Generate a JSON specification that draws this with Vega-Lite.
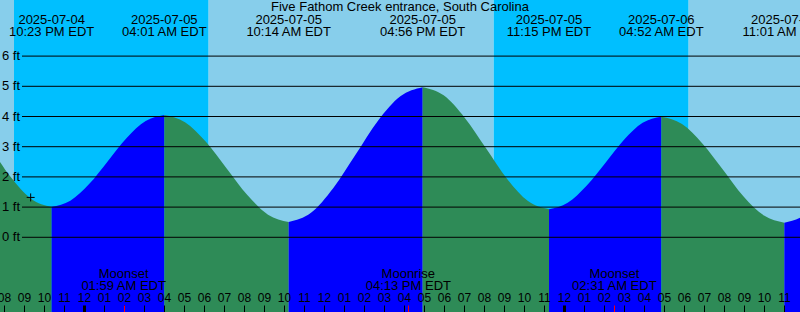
{
  "$schema": "https://vega.github.io/schema/vega-lite/v6.json",
  "width": 800,
  "height": 312,
  "padding": 0,
  "autosize": {"type": "none"},
  "config": {"view": {"stroke": null}, "text": {"font": "Liberation Sans"}},
  "datasets": {
    "sky": [
      {"start": -17.767, "end": -3.5, "kind": "day"},
      {"start": -3.5, "end": 6.233, "kind": "night"},
      {"start": 6.233, "end": 20.483, "kind": "day"},
      {"start": 20.483, "end": 30.233, "kind": "night"},
      {"start": 30.233, "end": 44.5, "kind": "day"}
    ],
    "tide": [
      {"hr": -7.833, "h": 5.00, "seg": "A", "dir": "falling"},
      {"hr": -6.8, "h": 4.73, "seg": "A", "dir": "falling"},
      {"hr": -5.767, "h": 4.00, "seg": "A", "dir": "falling"},
      {"hr": -4.717, "h": 3.01, "seg": "A", "dir": "falling"},
      {"hr": -3.683, "h": 2.01, "seg": "A", "dir": "falling"},
      {"hr": -2.65, "h": 1.28, "seg": "A", "dir": "falling"},
      {"hr": -1.617, "h": 1.01, "seg": "A", "dir": "falling"},
      {"hr": -1.617, "h": 1.01, "seg": "B", "dir": "rising"},
      {"hr": -0.683, "h": 1.21, "seg": "B", "dir": "rising"},
      {"hr": 0.267, "h": 1.77, "seg": "B", "dir": "rising"},
      {"hr": 1.2, "h": 2.53, "seg": "B", "dir": "rising"},
      {"hr": 2.133, "h": 3.29, "seg": "B", "dir": "rising"},
      {"hr": 3.083, "h": 3.85, "seg": "B", "dir": "rising"},
      {"hr": 4.017, "h": 4.05, "seg": "B", "dir": "rising"},
      {"hr": 4.017, "h": 4.05, "seg": "C", "dir": "falling"},
      {"hr": 5.05, "h": 3.81, "seg": "C", "dir": "falling"},
      {"hr": 6.083, "h": 3.17, "seg": "C", "dir": "falling"},
      {"hr": 7.133, "h": 2.28, "seg": "C", "dir": "falling"},
      {"hr": 8.167, "h": 1.40, "seg": "C", "dir": "falling"},
      {"hr": 9.2, "h": 0.75, "seg": "C", "dir": "falling"},
      {"hr": 10.233, "h": 0.51, "seg": "C", "dir": "falling"},
      {"hr": 10.233, "h": 0.51, "seg": "D", "dir": "rising"},
      {"hr": 11.35, "h": 0.81, "seg": "D", "dir": "rising"},
      {"hr": 12.467, "h": 1.63, "seg": "D", "dir": "rising"},
      {"hr": 13.583, "h": 2.74, "seg": "D", "dir": "rising"},
      {"hr": 14.7, "h": 3.86, "seg": "D", "dir": "rising"},
      {"hr": 15.817, "h": 4.67, "seg": "D", "dir": "rising"},
      {"hr": 16.933, "h": 4.97, "seg": "D", "dir": "rising"},
      {"hr": 16.933, "h": 4.97, "seg": "E", "dir": "falling"},
      {"hr": 17.983, "h": 4.70, "seg": "E", "dir": "falling"},
      {"hr": 19.033, "h": 3.96, "seg": "E", "dir": "falling"},
      {"hr": 20.1, "h": 2.95, "seg": "E", "dir": "falling"},
      {"hr": 21.15, "h": 1.94, "seg": "E", "dir": "falling"},
      {"hr": 22.2, "h": 1.20, "seg": "E", "dir": "falling"},
      {"hr": 23.25, "h": 0.93, "seg": "E", "dir": "falling"},
      {"hr": 23.25, "h": 0.93, "seg": "F", "dir": "rising"},
      {"hr": 24.183, "h": 1.14, "seg": "F", "dir": "rising"},
      {"hr": 25.117, "h": 1.70, "seg": "F", "dir": "rising"},
      {"hr": 26.067, "h": 2.46, "seg": "F", "dir": "rising"},
      {"hr": 27.0, "h": 3.23, "seg": "F", "dir": "rising"},
      {"hr": 27.933, "h": 3.79, "seg": "F", "dir": "rising"},
      {"hr": 28.867, "h": 3.99, "seg": "F", "dir": "rising"},
      {"hr": 28.867, "h": 3.99, "seg": "G", "dir": "falling"},
      {"hr": 29.9, "h": 3.75, "seg": "G", "dir": "falling"},
      {"hr": 30.917, "h": 3.11, "seg": "G", "dir": "falling"},
      {"hr": 31.95, "h": 2.24, "seg": "G", "dir": "falling"},
      {"hr": 32.967, "h": 1.36, "seg": "G", "dir": "falling"},
      {"hr": 34.0, "h": 0.72, "seg": "G", "dir": "falling"},
      {"hr": 35.017, "h": 0.48, "seg": "G", "dir": "falling"},
      {"hr": 35.017, "h": 0.48, "seg": "H", "dir": "rising"},
      {"hr": 36.133, "h": 0.78, "seg": "H", "dir": "rising"},
      {"hr": 37.267, "h": 1.61, "seg": "H", "dir": "rising"},
      {"hr": 38.383, "h": 2.74, "seg": "H", "dir": "rising"},
      {"hr": 39.5, "h": 3.87, "seg": "H", "dir": "rising"},
      {"hr": 40.633, "h": 4.70, "seg": "H", "dir": "rising"},
      {"hr": 41.75, "h": 5.00, "seg": "H", "dir": "rising"}
    ],
    "levels": [
      {"ft": 0, "label": "0 ft"},
      {"ft": 1, "label": "1 ft"},
      {"ft": 2, "label": "2 ft"},
      {"ft": 3, "label": "3 ft"},
      {"ft": 4, "label": "4 ft"},
      {"ft": 5, "label": "5 ft"},
      {"ft": 6, "label": "6 ft"}
    ],
    "events": [
      {"hr": -1.617, "date": "2025-07-04", "time": "10:23 PM EDT"},
      {"hr": 4.017, "date": "2025-07-05", "time": "04:01 AM EDT"},
      {"hr": 10.233, "date": "2025-07-05", "time": "10:14 AM EDT"},
      {"hr": 16.933, "date": "2025-07-05", "time": "04:56 PM EDT"},
      {"hr": 23.25, "date": "2025-07-05", "time": "11:15 PM EDT"},
      {"hr": 28.867, "date": "2025-07-06", "time": "04:52 AM EDT"},
      {"hr": 35.017, "date": "2025-07-06", "time": "11:01 AM EDT"}
    ],
    "moon": [
      {"hr": 1.983, "name": "Moonset", "time": "01:59 AM EDT"},
      {"hr": 16.217, "name": "Moonrise", "time": "04:13 PM EDT"},
      {"hr": 26.517, "name": "Moonset", "time": "02:31 AM EDT"}
    ],
    "now": [
      {"hr": -2.667, "h": 1.32}
    ],
    "heading": [
      {"hr": 15.8, "h": 7.493, "text": "Five Fathom Creek entrance, South Carolina"}
    ]
  },
  "layer": [
    {
      "data": {"name": "sky"},
      "mark": {"type": "rect", "clip": true},
      "encoding": {
        "x": {"field": "start", "type": "quantitative",
          "scale": {"domain": [-4.2, 35.8], "nice": false, "zero": false},
          "axis": {"orient": "top", "offset": -312, "title": null, "domain": false, "grid": false, "tickSize": 7, "tickColor": "black",
            "tickWidth": {"condition": {"test": "((datum.value % 24) + 24) % 24 === 0", "value": 3}, "value": 1},
            "values": [-4, -3, -2, -1, 0, 1, 2, 3, 4, 5, 6, 7, 8, 9, 10, 11, 12, 13, 14, 15, 16, 17, 18, 19, 20, 21, 22, 23, 24, 25, 26, 27, 28, 29, 30, 31, 32, 33, 34, 35],
            "labelExpr": "pad(toString((((datum.value % 12) + 12) % 12) || 12), 2, '0', 'left')",
            "labelFont": "Liberation Sans", "labelFontSize": 12, "labelColor": "black", "labelPadding": 1,
            "labelFlush": false, "labelOverlap": false, "labelBound": false, "zindex": 2}},
        "x2": {"field": "end"},
        "color": {"field": "kind", "type": "nominal", "scale": {"domain": ["day", "night"], "range": ["#87CEEB", "#00BFFF"]}, "legend": null}
      }
    },
    {
      "data": {"name": "tide"},
      "mark": {"type": "area", "interpolate": "monotone", "clip": true, "opacity": 1},
      "encoding": {
        "x": {"field": "hr", "type": "quantitative", "scale": {"domain": [-4.2, 35.8], "nice": false, "zero": false}, "axis": null},
        "y": {"field": "h", "type": "quantitative", "stack": null, "scale": {"domain": [-2.474, 7.858], "nice": false, "zero": false}, "axis": null},
        "y2": {"value": "height"},
        "detail": {"field": "seg", "type": "nominal"},
        "fill": {"field": "dir", "type": "nominal", "scale": {"domain": ["falling", "rising"], "range": ["#2E8B57", "#0000FF"]}, "legend": null}
      }
    },
    {
      "data": {"name": "levels"},
      "mark": {"type": "rule", "color": "black", "strokeWidth": 1},
      "encoding": {
        "x": {"datum": -3.1, "type": "quantitative", "scale": {"domain": [-4.2, 35.8], "nice": false, "zero": false}, "axis": null},
        "x2": {"datum": 35.8},
        "y": {"field": "ft", "type": "quantitative", "scale": {"domain": [-2.474, 7.858], "nice": false, "zero": false}, "axis": null}
      }
    },
    {
      "data": {"name": "levels"},
      "mark": {"type": "text", "font": "Liberation Sans", "fontSize": 13, "color": "black", "align": "right", "baseline": "middle"},
      "encoding": {
        "x": {"datum": -3.2, "type": "quantitative", "scale": {"domain": [-4.2, 35.8], "nice": false, "zero": false}, "axis": null},
        "y": {"field": "ft", "type": "quantitative", "scale": {"domain": [-2.474, 7.858], "nice": false, "zero": false}, "axis": null},
        "text": {"field": "label"}
      }
    },
    {
      "data": {"name": "now"},
      "mark": {"type": "point", "shape": "M-1,0H1M0,-1V1", "size": 64, "filled": false, "stroke": "black", "strokeWidth": 1, "opacity": 1},
      "encoding": {
        "x": {"field": "hr", "type": "quantitative", "scale": {"domain": [-4.2, 35.8], "nice": false, "zero": false}, "axis": null},
        "y": {"field": "h", "type": "quantitative", "scale": {"domain": [-2.474, 7.858], "nice": false, "zero": false}, "axis": null}
      }
    },
    {
      "data": {"name": "heading"},
      "mark": {"type": "text", "font": "Liberation Sans", "fontSize": 13, "color": "black", "align": "center", "baseline": "alphabetic"},
      "encoding": {
        "x": {"field": "hr", "type": "quantitative", "scale": {"domain": [-4.2, 35.8], "nice": false, "zero": false}, "axis": null},
        "y": {"field": "h", "type": "quantitative", "scale": {"domain": [-2.474, 7.858], "nice": false, "zero": false}, "axis": null},
        "text": {"field": "text"}
      }
    },
    {
      "data": {"name": "events"},
      "mark": {"type": "text", "font": "Liberation Sans", "fontSize": 13, "color": "black", "align": "center", "baseline": "alphabetic"},
      "encoding": {
        "x": {"field": "hr", "type": "quantitative", "scale": {"domain": [-4.2, 35.8], "nice": false, "zero": false}, "axis": null},
        "y": {"datum": 7.063, "type": "quantitative", "scale": {"domain": [-2.474, 7.858], "nice": false, "zero": false}, "axis": null},
        "text": {"field": "date"}
      }
    },
    {
      "data": {"name": "events"},
      "mark": {"type": "text", "font": "Liberation Sans", "fontSize": 13, "color": "black", "align": "center", "baseline": "alphabetic"},
      "encoding": {
        "x": {"field": "hr", "type": "quantitative", "scale": {"domain": [-4.2, 35.8], "nice": false, "zero": false}, "axis": null},
        "y": {"datum": 6.666, "type": "quantitative", "scale": {"domain": [-2.474, 7.858], "nice": false, "zero": false}, "axis": null},
        "text": {"field": "time"}
      }
    },
    {
      "data": {"name": "moon"},
      "mark": {"type": "text", "font": "Liberation Sans", "fontSize": 13, "color": "black", "align": "center", "baseline": "alphabetic"},
      "encoding": {
        "x": {"field": "hr", "type": "quantitative", "scale": {"domain": [-4.2, 35.8], "nice": false, "zero": false},
          "axis": {"orient": "top", "offset": -312, "title": null, "domain": false, "grid": false, "labels": false, "tickSize": 7, "tickColor": "red", "tickWidth": 1,
            "values": [1.983, 16.217, 26.517], "zindex": 3}},
        "y": {"datum": -1.338, "type": "quantitative", "scale": {"domain": [-2.474, 7.858], "nice": false, "zero": false}, "axis": null},
        "text": {"field": "name"}
      }
    },
    {
      "data": {"name": "moon"},
      "mark": {"type": "text", "font": "Liberation Sans", "fontSize": 13, "color": "black", "align": "center", "baseline": "alphabetic"},
      "encoding": {
        "x": {"field": "hr", "type": "quantitative", "scale": {"domain": [-4.2, 35.8], "nice": false, "zero": false}, "axis": null},
        "y": {"datum": -1.745, "type": "quantitative", "scale": {"domain": [-2.474, 7.858], "nice": false, "zero": false}, "axis": null},
        "text": {"field": "time"}
      }
    }
  ],
  "resolve": {"axis": {"x": "independent"}}
}
